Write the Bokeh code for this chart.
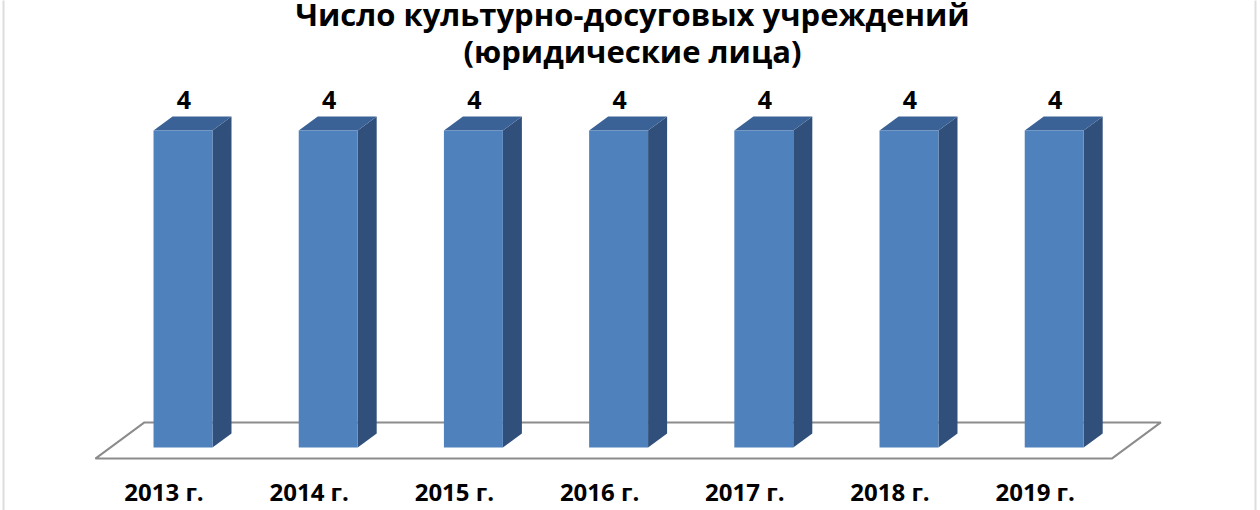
from bokeh.plotting import figure
from bokeh.models import ColumnDataSource, LabelSet, Label, Range1d, BoxAnnotation
from bokeh.core.properties import value
from bokeh.embed import file_html
from bokeh.resources import INLINE

# ---- data ----
title_lines = ["Число культурно-досуговых учреждений", "(юридические лица)"]
categories = ["2013 г.", "2014 г.", "2015 г.", "2016 г.", "2017 г.", "2018 г.", "2019 г."]
values = [4, 4, 4, 4, 4, 4, 4]

# ---- layout / style ----
W, H = 1260, 510
PX_X, PX_Y = 145.2, 79.25          # pixels per category / per unit
X0, Y0 = -182.5 / 145.2, -63 / 79.25
FONT = "Open Sans"
FRONT, TOP, SIDE = "#4F81BD", "#3B6296", "#30507B"

n = len(categories)
idx = list(range(n))
bw = 0.406                  # bar front width (category units)
ddx, ddy = 0.131, 0.177     # depth offset
gap = 0.79                  # floor margin relative to depth

p = figure(width=W, height=H, output_backend="svg", toolbar_location=None,
           x_range=Range1d(X0, X0 + W / PX_X), y_range=Range1d(Y0, Y0 + H / PX_Y),
           x_axis_type=None, y_axis_type=None,
           min_border=0, outline_line_color=None, background_fill_color="white")
p.grid.visible = False

# chart frame (left/right edges visible)
p.add_layout(BoxAnnotation(left=3, right=1255, top=H + 20, bottom=-20,
                           left_units="screen", right_units="screen",
                           top_units="screen", bottom_units="screen",
                           fill_alpha=0, line_color="#8E8E8E", line_width=2))

# floor
fx = [-0.5 - gap * ddx, n - 0.5 - gap * ddx, n - 0.5 + (1 + gap) * ddx, -0.5 + (1 + gap) * ddx]
fy = [-gap * ddy, -gap * ddy, (1 + gap) * ddy, (1 + gap) * ddy]
p.patch(fx, fy, fill_color="white", line_color="#8C8C8C", line_width=2)

# side and top faces
side_xs = [[i + bw / 2, i + bw / 2, i + bw / 2 + ddx, i + bw / 2 + ddx] for i in idx]
side_ys = [[0, v, v + ddy, ddy] for v in values]
top_xs = [[i - bw / 2, i + bw / 2, i + bw / 2 + ddx, i - bw / 2 + ddx] for i in idx]
top_ys = [[v, v, v + ddy, v + ddy] for v in values]
p.patches(side_xs, side_ys, fill_color=SIDE, line_color=None)
p.patches(top_xs, top_ys, fill_color=TOP, line_color=None)

src = ColumnDataSource(dict(x=idx, top=values, lab=[str(v) for v in values], cat=categories))
p.vbar(x="x", top="top", bottom=0, width=bw, source=src, fill_color=FRONT, line_color=None)

p.add_layout(LabelSet(x="x", y="top", text="lab", source=src, x_offset=1, y_offset=22,
                      text_align="center", text_baseline="alphabetic",
                      text_font=value(FONT), text_font_style="bold", text_font_size="25px",
                      text_color="black"))
p.add_layout(LabelSet(x="x", y=0, text="cat", source=src, x_offset=-19, y_offset=-53,
                      text_align="center", text_baseline="alphabetic",
                      text_font=value(FONT), text_font_style="bold", text_font_size="24px",
                      text_color="black"))

for txt, yb in zip(title_lines, [H - 13, H - 50]):
    p.add_layout(Label(x=632, y=yb, x_units="screen", y_units="screen", text=txt,
                       text_align="center", text_baseline="alphabetic",
                       text_font=FONT, text_font_style="bold", text_font_size="31px",
                       text_color="black"))

open("out.html", "w").write(file_html(p, INLINE))
